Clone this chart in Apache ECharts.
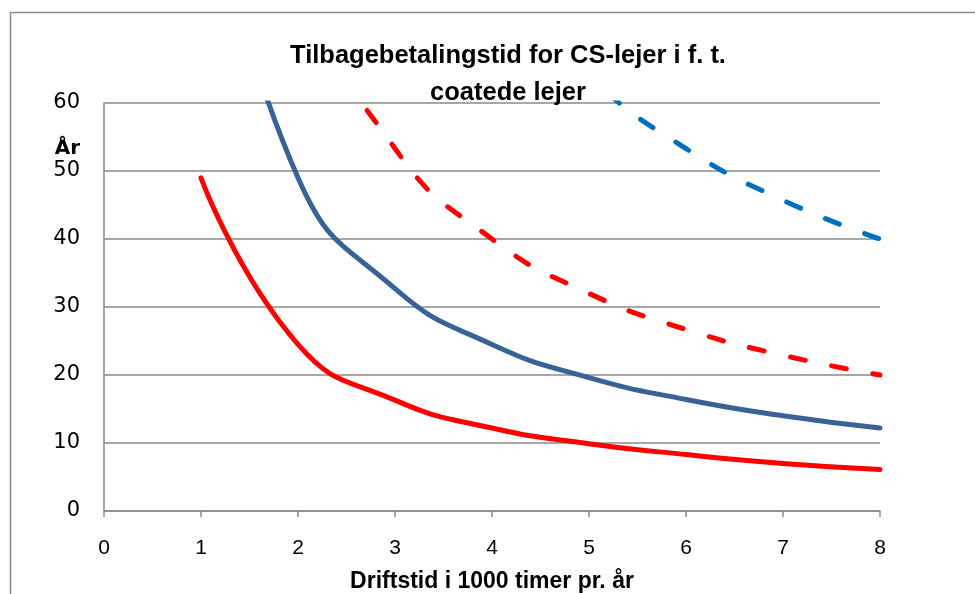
<!DOCTYPE html>
<html>
<head>
<meta charset="utf-8">
<script src="https://cdn.jsdelivr.net/npm/echarts@6/dist/echarts.min.js"></script>
<style>
  html, body { margin: 0; padding: 0; background: #fff; }
  #chart { width: 975px; height: 594px; }
</style>
</head>
<body>
<div id="chart"></div>
<script>
// driftstid (1000 timer pr. år)
const hours = [1, 2, 3, 4, 5, 6, 7, 8]
// tilbagebetalingstid i år
const redSolid = [49, 24.5, 16.3, 12.2, 9.9, 8.3, 7.0, 6.1]
const blueSolid = [98, 49, 32.7, 24.5, 19.6, 16.4, 14.0, 12.2]
const redDashed = [160, 80, 53.3, 40, 32, 26.7, 22.9, 20]
const blueDashed = [320, 160, 106.7, 80, 64, 53.3, 45.7, 40]

const gridGrey = '#8a8a8a'

function pairs(values) {
  return hours.map((h, i) => [h, values[i]])
}

function line(name, values, color, dashed) {
  return {
    name: name,
    type: 'line',
    data: pairs(values),
    smooth: 0.5,
    symbol: 'none',
    clip: true,
    lineStyle: {
      color: color,
      width: 5,
      type: dashed ? [15, 27] : 'solid',
      cap: 'round',
      join: 'round'
    }
  }
}

const chart = echarts.init(document.getElementById('chart'))
chart.setOption({
  animation: false,
  title: {
    text: 'Tilbagebetalingstid for CS-lejer i f. t.\ncoatede lejer',
    left: 503,
    top: 32,
    textAlign: 'center',
    textStyle: {
      fontFamily: 'Liberation Sans',
      fontWeight: 'bold',
      fontSize: 25.5,
      lineHeight: 37,
      color: '#000'
    }
  },
  graphic: [{
    type: 'rect',
    shape: { x: 10.5, y: 12.5, width: 1200, height: 1200 },
    style: { fill: 'none', stroke: gridGrey, lineWidth: 1.5 },
    silent: true
  }],
  grid: {
    left: 104,
    right: 95,
    top: 103,
    bottom: 83,
    containLabel: false,
    outerBoundsMode: 'none'
  },
  xAxis: {
    type: 'value',
    min: 0,
    max: 8,
    interval: 1,
    name: 'Driftstid i 1000 timer pr. år',
    nameLocation: 'middle',
    nameGap: 59,
    nameTextStyle: {
      fontFamily: 'Liberation Sans',
      fontWeight: 'bold',
      fontSize: 23,
      color: '#000'
    },
    axisLine: { show: true, lineStyle: { color: gridGrey, width: 1.5 } },
    axisTick: { show: true, length: 6, lineStyle: { color: gridGrey, width: 1.5 } },
    splitLine: { show: false },
    axisLabel: {
      margin: 27,
      fontFamily: 'Liberation Sans',
      fontSize: 21,
      color: '#000'
    }
  },
  yAxis: {
    type: 'value',
    min: 0,
    max: 60,
    interval: 10,
    name: 'År',
    nameLocation: 'end',
    nameGap: -46,
    nameTextStyle: {
      fontFamily: 'DejaVu Sans',
      fontWeight: 'bold',
      fontSize: 20,
      color: '#000',
      align: 'right',
      verticalAlign: 'middle',
      padding: [0, 24, 0, 0]
    },
    axisLine: { show: true, lineStyle: { color: gridGrey, width: 1.5 } },
    axisTick: { show: false },
    splitLine: { show: true, lineStyle: { color: gridGrey, width: 1.5 } },
    axisLabel: {
      margin: 24,
      fontFamily: 'DejaVu Sans',
      fontSize: 21,
      color: '#000'
    }
  },
  series: [
    line('blue dashed', blueDashed, '#0070C0', true),
    line('red dashed', redDashed, '#FF0000', true),
    line('blue solid', blueSolid, '#386396', false),
    line('red solid', redSolid, '#FF0000', false)
  ]
})
</script>
</body>
</html>
